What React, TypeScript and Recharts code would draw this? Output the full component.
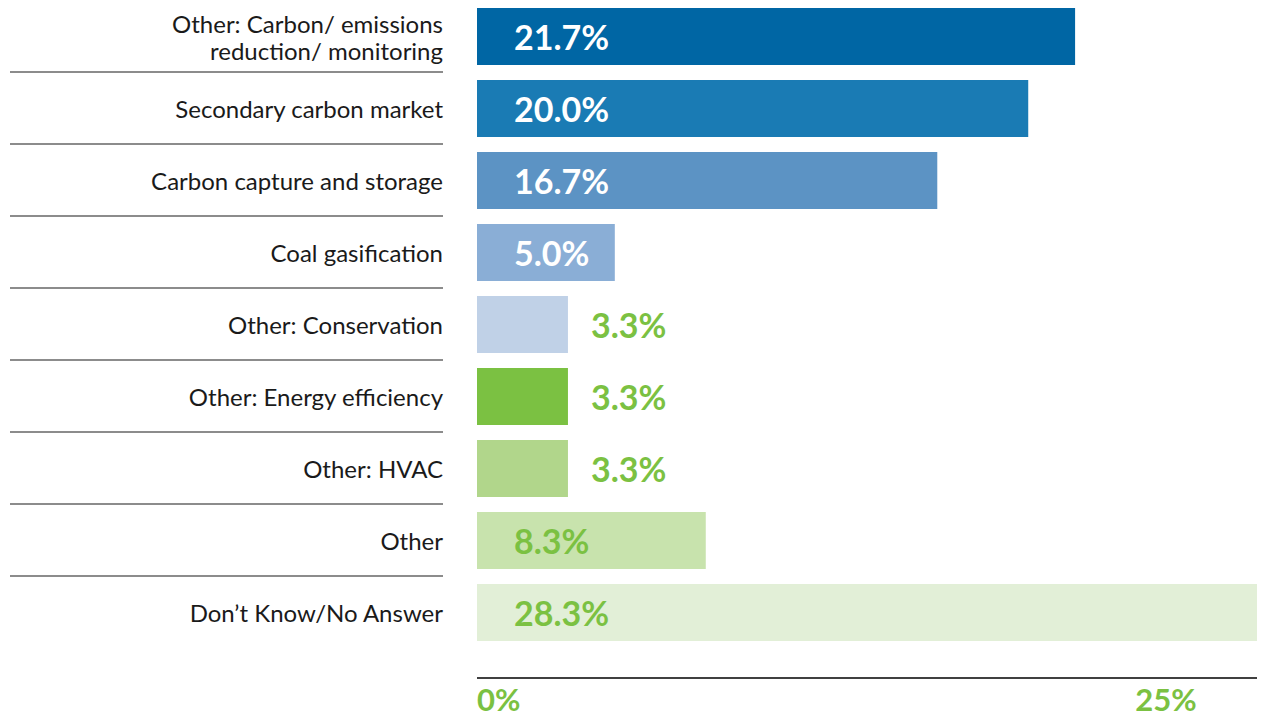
import { BarChart, Bar, XAxis, YAxis, Cell, LabelList } from "recharts";

const categories = [
  "Other: Carbon/ emissions|reduction/ monitoring",
  "Secondary carbon market",
  "Carbon capture and storage",
  "Coal gasification",
  "Other: Conservation",
  "Other: Energy efficiency",
  "Other: HVAC",
  "Other",
  "Don\u2019t Know/No Answer",
];

const shares = [21.7, 20.0, 16.7, 5.0, 3.3, 3.3, 3.3, 8.3, 28.3];

const barColors = [
  "#0066a4",
  "#1a7bb4",
  "#5c93c4",
  "#8aaed6",
  "#c0d1e7",
  "#7bc142",
  "#b1d68b",
  "#c8e3ad",
  "#e2efd7",
];

const labelColors = [
  "#ffffff",
  "#ffffff",
  "#ffffff",
  "#ffffff",
  "#7bc142",
  "#7bc142",
  "#7bc142",
  "#7bc142",
  "#7bc142",
];

const xTicks = [0, 25];

const FONT = "Lato, 'Noto Sans', sans-serif";
const GREEN = "#7bc142";

const data = categories.map((name, i) => ({ name, value: shares[i] }));

function CategoryTick(props: any) {
  const { x, y, payload, index } = props;
  const lines = String(payload.value).split("|");
  const lineH = 27;
  const startY = y - ((lines.length - 1) * lineH) / 2;
  return (
    <g>
      <text
        x={x}
        y={startY}
        textAnchor="end"
        dominantBaseline="central"
        fontFamily={FONT}
        fontSize={24}
        fill="#1a1a1a"
      >
        {lines.map((l, i) => (
          <tspan key={i} x={x} y={startY + i * lineH} dominantBaseline="central">
            {l}
          </tspan>
        ))}
      </text>
      {index < categories.length - 1 && (
        <line x1={10} x2={x} y1={y + 36} y2={y + 36} stroke="#666" strokeWidth={1.5} />
      )}
    </g>
  );
}

function PercentTick(props: any) {
  const { x, y, payload } = props;
  return (
    <text
      x={x}
      y={y + 25}
      textAnchor={payload.value === 0 ? "start" : "middle"}
      fontFamily={FONT}
      fontWeight={700}
      fontSize={31}
      fill={GREEN}
    >
      {payload.value}%
    </text>
  );
}

function ValueLabel(props: any) {
  const { x, y, width, height, value, index } = props;
  const inside = width > 100;
  return (
    <text
      x={inside ? x + 37 : x + width + 23}
      y={y + height / 2}
      dominantBaseline="central"
      fontFamily={FONT}
      fontWeight={700}
      fontSize={34}
      fill={labelColors[index]}
    >
      {Number(value).toFixed(1)}%
    </text>
  );
}

export default function App() {
  return (
    <div style={{ position: "absolute", left: 0, top: 0, background: "#fff" }}>
      <BarChart
        width={1263}
        height={719}
        data={data}
        layout="vertical"
        margin={{ top: 0, right: 6, bottom: 0, left: 0 }}
      >
        <XAxis
          type="number"
          domain={[0, 28.3]}
          ticks={xTicks}
          height={41}
          tickLine={false}
          axisLine={{ stroke: "#000", strokeWidth: 1.5 }}
          tick={<PercentTick />}
        />
        <YAxis
          type="category"
          dataKey="name"
          width={477}
          tickLine={false}
          axisLine={false}
          tickSize={6}
          tickMargin={28}
          padding={{ top: 0, bottom: 30 }}
          tick={<CategoryTick />}
          interval={0}
        />
        <Bar dataKey="value" barSize={57} isAnimationActive={false}>
          {data.map((_, i) => (
            <Cell key={i} fill={barColors[i]} />
          ))}
          <LabelList dataKey="value" content={<ValueLabel />} />
        </Bar>
      </BarChart>
    </div>
  );
}
